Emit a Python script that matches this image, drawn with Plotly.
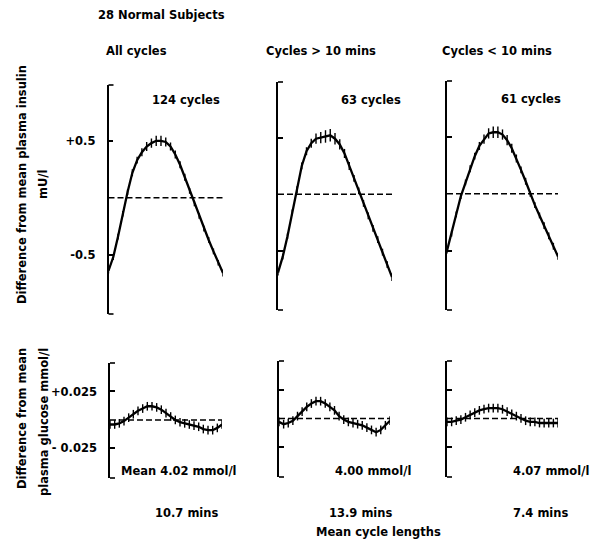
import plotly.graph_objects as go

W, H = 599, 539

# sample index along the mean cycle (25 points)
cycle_points = list(range(25))

# Insulin: difference from mean plasma insulin (mU/l)
insulin_all = [-0.64, -0.52, -0.34, -0.14, 0.05, 0.22, 0.33, 0.40, 0.45, 0.48, 0.50, 0.50, 0.49,
               0.45, 0.38, 0.29, 0.18, 0.06, -0.05, -0.16, -0.27, -0.37, -0.47, -0.57, -0.66]
insulin_gt10 = [-0.69, -0.55, -0.37, -0.16, 0.04, 0.25, 0.38, 0.45, 0.49, 0.50, 0.51, 0.52, 0.49,
                0.44, 0.36, 0.25, 0.14, 0.03, -0.08, -0.19, -0.30, -0.40, -0.51, -0.62, -0.73]
insulin_lt10 = [-0.50, -0.35, -0.18, -0.02, 0.10, 0.22, 0.33, 0.42, 0.48, 0.53, 0.54, 0.54, 0.52,
                0.47, 0.40, 0.31, 0.21, 0.11, 0.00, -0.10, -0.19, -0.28, -0.37, -0.46, -0.55]
insulin_all_err = [0.025, 0.025, 0.025, 0.025, 0.025, 0.03, 0.03, 0.035, 0.04, 0.04, 0.045, 0.045, 0.04,
                   0.035, 0.035, 0.03, 0.03, 0.025, 0.025, 0.025, 0.025, 0.025, 0.025, 0.025, 0.03]
insulin_gt10_err = [0.025, 0.025, 0.025, 0.025, 0.03, 0.03, 0.035, 0.04, 0.045, 0.05, 0.055, 0.055, 0.05,
                    0.045, 0.04, 0.035, 0.03, 0.03, 0.03, 0.03, 0.03, 0.03, 0.03, 0.03, 0.035]
insulin_lt10_err = [0.025, 0.025, 0.025, 0.025, 0.025, 0.03, 0.03, 0.035, 0.04, 0.045, 0.05, 0.05, 0.045,
                    0.045, 0.04, 0.035, 0.03, 0.03, 0.025, 0.025, 0.025, 0.03, 0.03, 0.03, 0.03]

# Glucose: difference from mean plasma glucose (mmol/l)
glucose_all = [-0.004, -0.004, -0.003, -0.001, 0.002, 0.005, 0.008, 0.010, 0.012, 0.012, 0.011, 0.009, 0.006,
               0.003, 0.000, -0.002, -0.003, -0.004, -0.005, -0.006, -0.008, -0.009, -0.009, -0.007, -0.004]
glucose_gt10 = [-0.003, -0.005, -0.004, -0.002, 0.002, 0.006, 0.010, 0.013, 0.015, 0.015, 0.013, 0.010, 0.007,
                0.002, -0.001, -0.003, -0.004, -0.005, -0.006, -0.008, -0.010, -0.012, -0.010, -0.006, -0.002]
glucose_lt10 = [-0.003, -0.003, -0.002, -0.001, 0.001, 0.003, 0.005, 0.007, 0.008, 0.009, 0.009, 0.009, 0.008,
                0.006, 0.004, 0.002, 0.000, -0.002, -0.003, -0.003, -0.004, -0.004, -0.004, -0.004, -0.004]
glucose_err = [0.0038] * 25

panel_titles = ["All cycles", "Cycles > 10 mins", "Cycles < 10 mins"]
cycle_counts = ["124 cycles", "63 cycles", "61 cycles"]
glucose_means = ["Mean 4.02 mmol/l", "4.00 mmol/l", "4.07 mmol/l"]
cycle_lengths = ["10.7 mins", "13.9 mins", "7.4 mins"]
insulin_ticks = [-0.5, 0.5]
insulin_ticktext = ["-0.5", "+0.5"]
glucose_ticks = [-0.025, 0.025]
glucose_ticktext = ["- 0.025", "+0.025"]

FONT = dict(family="DejaVu Sans", size=11.5, color="black", weight="bold")

fig = go.Figure()

def px(x):
    return x / W

def py(y):
    return 1 - y / H

# panel geometry in pixels: (axis x, curve end x, top y, bottom y)
top_geom = [(108.5, 223, 85, 314), (278, 392, 82, 310), (447, 558, 81, 310)]
bot_geom = [(110, 222, 363, 478), (279, 390, 361, 477), (447, 558, 361, 477)]
top_ranges = [[-1.02, 0.99], [-1.0, 1.02], [-1.01, 1.02]]
bot_ranges = [[-0.051, 0.05], [-0.051, 0.05], [-0.051, 0.05]]

insulin_series = [(insulin_all, insulin_all_err), (insulin_gt10, insulin_gt10_err), (insulin_lt10, insulin_lt10_err)]
glucose_series = [glucose_all, glucose_gt10, glucose_lt10]

layout_axes = {}
n = 0
for row, (geoms, ranges) in enumerate([(top_geom, top_ranges), (bot_geom, bot_ranges)]):
    for col in range(3):
        n += 1
        ax_x, end_x, top_y, bot_y = geoms[col]
        xa = "x" if n == 1 else f"x{n}"
        ya = "y" if n == 1 else f"y{n}"
        xkey = "xaxis" if n == 1 else f"xaxis{n}"
        ykey = "yaxis" if n == 1 else f"yaxis{n}"
        if row == 0:
            yvals, yerr = insulin_series[col]
            tv, tt = insulin_ticks, (insulin_ticktext if col == 0 else ["", ""])
        else:
            yvals, yerr = glucose_series[col], glucose_err
            tv, tt = glucose_ticks, (glucose_ticktext if col == 0 else ["", ""])
        # dashed mean line
        fig.add_trace(go.Scatter(x=[cycle_points[0], cycle_points[-1]], y=[0, 0], mode="lines",
                                 line=dict(color="black", width=1.6, dash="6px,3px"),
                                 xaxis=xa, yaxis=ya, showlegend=False, hoverinfo="skip"))
        fig.add_trace(go.Scatter(x=cycle_points, y=yvals, mode="lines",
                                 line=dict(color="black", width=2.3),
                                 error_y=dict(type="data", array=yerr, visible=True,
                                              color="black", thickness=1.4, width=0),
                                 xaxis=xa, yaxis=ya, showlegend=False))
        layout_axes[xkey] = dict(domain=[px(ax_x), px(end_x)], range=[0, 24], visible=False,
                                 anchor=ya, fixedrange=True)
        layout_axes[ykey] = dict(domain=[py(bot_y), py(top_y)], range=ranges[row], anchor=xa,
                                 showline=True, linecolor="black", linewidth=1.6,
                                 ticks="inside", ticklen=5, tickwidth=1.6, tickcolor="black",
                                 tickvals=tv, ticktext=tt, ticklabelstandoff=9,
                                 tickfont=FONT, showgrid=False, zeroline=False,
                                 automargin=False, fixedrange=True)
        # bracket serifs at top and bottom of the axis
        for yy in (top_y, bot_y):
            fig.add_shape(type="line", xref="paper", yref="paper",
                          x0=px(ax_x), x1=px(ax_x + 5), y0=py(yy), y1=py(yy),
                          line=dict(color="black", width=1.6))

fig.update_layout(**layout_axes)

ann = []
def text(x, y, s, angle=0):
    ann.append(dict(x=px(x), y=py(y), xref="paper", yref="paper", text=s, showarrow=False,
                    xanchor="center", yanchor="middle", font=FONT, textangle=angle))

text(162, 15, "28 Normal Subjects")
for cx, s in zip([136, 321, 497], panel_titles):
    text(cx, 51, s)
for (cx, cy), s in zip([(186, 100), (371, 100), (531, 99)], cycle_counts):
    text(cx, cy, s)
for cx, s in zip([179, 373, 551], glucose_means):
    text(cx, 471, s)
for cx, s in zip([187, 360, 540], cycle_lengths):
    text(cx, 513, s)
text(378, 532, "Mean cycle lengths")
text(22, 185, "Difference from mean plasma insulin", -90)
text(43, 185, "mU/l", -90)
text(22, 419, "Difference from mean", -90)
text(44, 422, "plasma glucose mmol/l", -90)

fig.update_layout(width=W, height=H, margin=dict(l=0, r=0, t=0, b=0),
                  paper_bgcolor="white", plot_bgcolor="white", annotations=ann,
                  showlegend=False)

fig.write_html("out.html", config={"displayModeBar": False},
               post_script="document.body.style.margin='0';document.body.style.overflow='hidden';")
